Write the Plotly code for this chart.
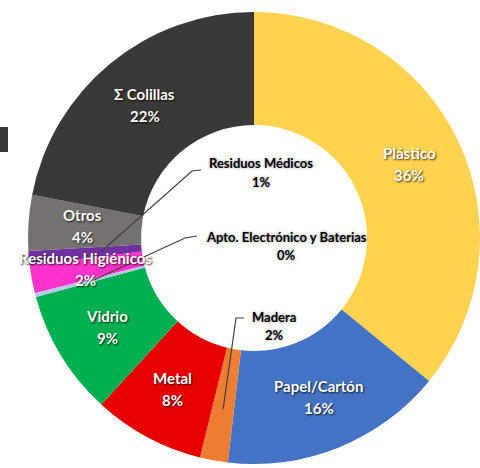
import math
import plotly.graph_objects as go

# ---------------- data ----------------
labels = ["Plástico", "Papel/Cartón", "Madera", "Metal", "Vidrio",
          "Apto. Electrónico y Baterias", "Residuos Higiénicos",
          "Residuos Médicos", "Otros", "Σ Colillas"]
values = [36, 16, 2, 8, 9, 0.3, 2, 1, 4, 22]
colors = ["#FFD24F", "#4472C4", "#ED7D31", "#E60000", "#00B050",
          "#B4C7E7", "#FF33CC", "#7030A0", "#767171", "#3B3838"]
# which labels sit on their slice (white) vs. in the hole with leader lines
on_slice = [True, True, False, True, True, False, True, False, True, True]

# ---------------- layout constants (pixels) ----------------
W, H = 480, 468
CX, CY = 254, 238          # donut centre
R = 226                    # outer radius
HOLE = 0.5
FONT = "Lato, 'Open Sans', sans-serif"
FS_IN = 15
FS_OUT = 13

total = sum(values)


def px(x, y):
    return x / W, 1 - y / H


def slice_point(i, rfrac):
    start = sum(values[:i])
    mid = (start + values[i] / 2) / total
    a = 2 * math.pi * mid
    r = R * rfrac
    return CX + r * math.sin(a), CY - r * math.cos(a)


def pct(i):
    return f"{round(values[i] / total * 100):.0f}%"


fig = go.Figure()
fig.add_trace(go.Pie(
    labels=labels, values=values, sort=False, direction="clockwise",
    rotation=0, hole=HOLE,
    marker=dict(colors=colors, line=dict(width=0)),
    textinfo="none",
    domain=dict(x=[(CX - R) / W, (CX + R) / W],
                y=[(H - CY - R) / H, (H - CY + R) / H]),
    showlegend=False, hoverinfo="label+percent",
))

annotations = []
shapes = []


def two_line(cx, cy, name, p, size, color, shadow, gap):
    for txt, dy in ((name, -gap / 2), (p, gap / 2)):
        x, y = px(cx, cy + dy)
        annotations.append(dict(
            x=x, y=y, xref="paper", yref="paper", showarrow=False,
            text=f"<b>{txt}</b>",
            font=dict(family=FONT, size=size, color=color, shadow=shadow),
            xanchor="center", yanchor="middle",
        ))


# labels sitting on their slices
for i, flag in enumerate(on_slice):
    if not flag:
        continue
    cx, cy = slice_point(i, 0.76)
    two_line(cx, cy, labels[i], pct(i), FS_IN, "white",
             "1px 1px 2px rgba(0,0,0,0.8)", 22)

# labels in the hole with leader lines:
# (index, label centre, line start, elbow, radius fraction of line end)
leaders = [
    (7, (261, 172.5), (201, 170), (192, 171), 0.68),
    (5, (286, 246), (197, 236), (185, 238), 0.73),
    (2, (274, 326), (244, 318), (236, 318), 0.77),
]
for i, (lx, ly), (sx, sy), (ex, ey), rf in leaders:
    two_line(lx, ly, labels[i], pct(i), FS_OUT, "black",
             "0px 0px 3px rgba(0,0,0,0.45)", 18.5)
    tx, ty = slice_point(i, rf)
    pts = [px(sx, sy), px(ex, ey), px(tx, ty)]
    path = "M " + " L ".join(f"{a:.4f},{b:.4f}" for a, b in pts)
    shapes.append(dict(type="path", path=path, xref="paper", yref="paper",
                       line=dict(color="#404040", width=1.2)))

# cropped fragment at the left edge
x0, y1 = px(0, 127)
x1, y0 = px(8, 152)
shapes.append(dict(type="rect", xref="paper", yref="paper",
                   x0=x0, x1=x1, y0=y0, y1=y1,
                   fillcolor="#3B3838", line=dict(width=0)))

fig.update_layout(
    width=W, height=H, margin=dict(l=0, r=0, t=0, b=0),
    paper_bgcolor="white", plot_bgcolor="white",
    annotations=annotations, shapes=shapes,
)

fig.write_html(
    "out.html",
    config={"displayModeBar": False},
    post_script="document.body.style.margin='0';"
                "document.body.style.overflow='hidden';",
)
